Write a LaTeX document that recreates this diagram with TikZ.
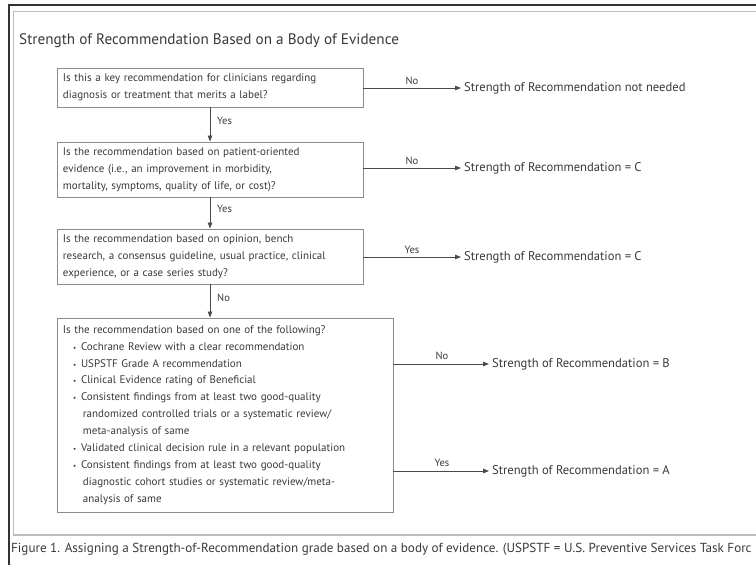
\documentclass[tikz,border=0pt]{standalone}
\usepackage{fontspec}
\setmainfont{PT Sans}
\usetikzlibrary{arrows.meta}
\definecolor{txt}{HTML}{3A3A3A}
\definecolor{boxline}{HTML}{8C8C8C}
\definecolor{arrline}{HTML}{4A4A4A}
\definecolor{frameg}{HTML}{BDBDBD}
\newcommand{\bul}{\makebox[8pt][l]{\fontsize{7}{7}\selectfont\textbullet}}
\begin{document}
\begin{tikzpicture}[x=1pt,y=-1pt,
  qbox/.style={draw=boxline, line width=0.9pt, inner xsep=6pt, inner ysep=3pt,
    align=left, text=txt, font=\fontsize{11}{16.9}\selectfont},
  arr/.style={draw=arrline, line width=0.8pt, -{Triangle[length=6pt,width=4.5pt]}},
  lbl/.style={inner sep=0pt, text=txt, font=\fontsize{10.5}{12}\selectfont},
  res/.style={anchor=west, inner xsep=3pt, inner ysep=0pt, text=txt, font=\fontsize{12.6}{14}\selectfont}]
\useasboundingbox (0,0) rectangle (756,565);
\fill[white] (0,0) rectangle (756,565);
% frames
\draw[black!80, line width=1.2pt] (757,5) -- (9,5) -- (9,566);
\draw[frameg, line width=1.8pt] (757,11.5) -- (13.5,11.5) -- (13.5,535) -- (757,535);
% title
\node[anchor=west, inner sep=0pt, text=txt, font=\fontsize{15.2}{18}\selectfont] (title) at (19,41)
  {Strength of Recommendation Based on a Body of Evidence};
% boxes
\node[qbox, text width=294pt, minimum height=39pt] (b1) at (210,87.5)
  {Is this a key recommendation for clinicians regarding\\diagnosis or treatment that merits a label?};
\node[qbox, text width=294pt, minimum height=55pt] (b2) at (210,169.5)
  {Is the recommendation based on patient-oriented\\evidence (i.e., an improvement in morbidity,\\mortality, symptoms, quality of life, or cost)?};
\node[qbox, text width=294pt, minimum height=55pt] (b3) at (210,256.5)
  {Is the recommendation based on opinion, bench\\research, a consensus guideline, usual practice, clinical\\experience, or a case series study?};
\node[qbox, text width=324pt, minimum height=194pt] (b4) at (225,415)
  {Is the recommendation based on one of the following?\\
   \hspace*{10pt}\bul Cochrane Review with a clear recommendation\\
   \hspace*{10pt}\bul USPSTF Grade A recommendation\\
   \hspace*{10pt}\bul Clinical Evidence rating of Beneficial\\
   \hspace*{10pt}\bul Consistent findings from at least two good-quality\\
   \hspace*{20pt}randomized controlled trials or a systematic review/\\
   \hspace*{20pt}meta-analysis of same\\
   \hspace*{10pt}\bul Validated clinical decision rule in a relevant population\\
   \hspace*{10pt}\bul Consistent findings from at least two good-quality\\
   \hspace*{20pt}diagnostic cohort studies or systematic review/meta-\\
   \hspace*{20pt}analysis of same};
% results
\node[res] (r1) at (461,88) {Strength of Recommendation not needed};
\node[res] (r2) at (461,168) {Strength of Recommendation = C};
\node[res] (r3) at (461,257) {Strength of Recommendation = C};
\node[res] (rB) at (489,364) {Strength of Recommendation = B};
\node[res] (rA) at (489,471) {Strength of Recommendation = A};
% vertical connectors
\draw[arr] (b1.south) -- (b2.north);
\draw[arr] (b2.south) -- (b3.north);
\draw[arr] (b3.south) -- (b3.south |- b4.north);
\node[lbl, anchor=west] (y1) at (217,121) {Yes};
\node[lbl, anchor=west] (y2) at (217,209) {Yes};
\node[lbl, anchor=west] (n3) at (217,298) {No};
% horizontal connectors
\draw[arr] (b1.east |- r1.west) -- (r1.west);
\draw[arr] (b2.east |- r2.west) -- (r2.west);
\draw[arr] (b3.east |- r3.west) -- (r3.west);
\draw[arr] (b4.east |- rB.west) -- (rB.west);
\draw[arr] (b4.east |- rA.west) -- (rA.west);
\node[lbl] (l1) at (412,81) {No};
\node[lbl] (l2) at (412,161) {No};
\node[lbl] (l3) at (412,250) {Yes};
\node[lbl] (lB) at (442,356) {No};
\node[lbl] (lA) at (442,463) {Yes};
% caption
\node[anchor=west, inner sep=0pt, text=txt, font=\fontsize{13.1}{15}\selectfont] (cap) at (11,549)
  {Figure 1. Assigning a Strength-of-Recommendation grade based on a body of evidence. (USPSTF = U.S. Preventive Services Task Forc};
\end{tikzpicture}
\end{document}
